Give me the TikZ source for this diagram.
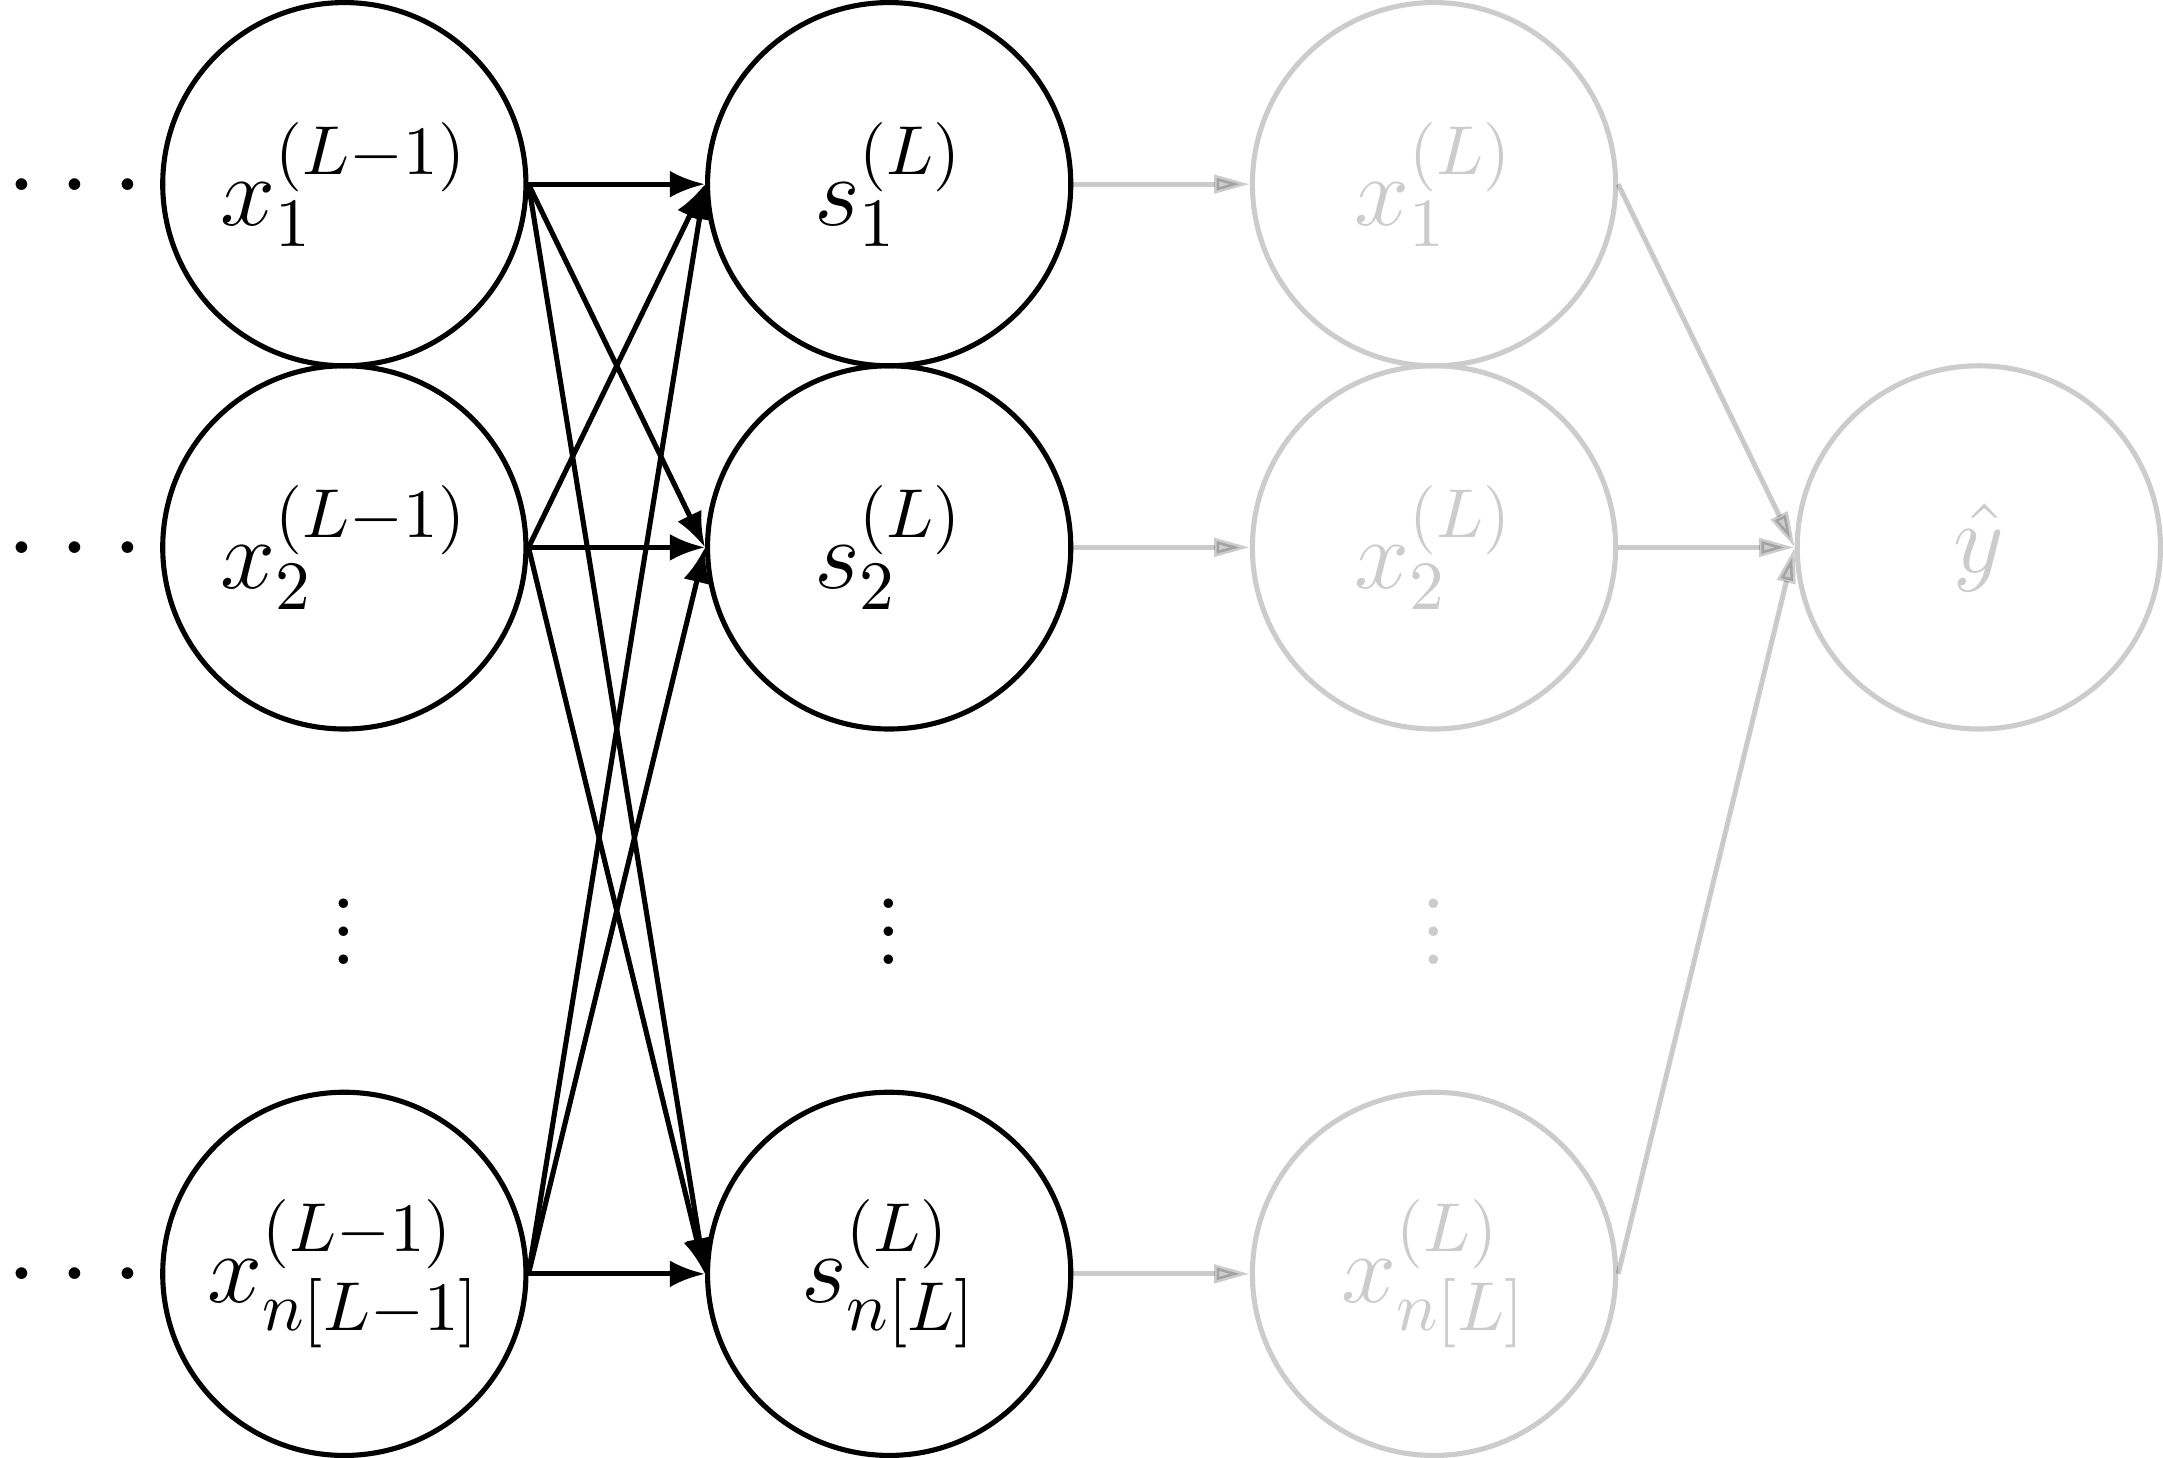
\RequirePackage{fix-cm}
\documentclass[tikz,border=0pt]{standalone}
\usetikzlibrary{arrows.meta}
\begin{document}
\begin{tikzpicture}[
  neuron/.style={circle, draw, thick, minimum size=2cm, inner sep=0pt,
                 font=\fontsize{15.5}{18}\selectfont},
  faded/.style={draw=black!20, text=black!20},
  hdots/.style={inner sep=0pt, font=\fontsize{19}{22}\selectfont},
  vdotsnode/.style={inner sep=0pt, font=\fontsize{14}{17}\selectfont, scale=1.1, transform shape},
  blk/.style={thick, -{Latex[length=5.5pt,width=4.2pt]}},
  gry/.style={thick, draw=black, fill=black, opacity=0.2, -{Triangle[length=5.6pt,width=2.8pt]}},
]
\useasboundingbox (-1.896,-7.014) rectangle (10.014,1.014);

% layer L-1
\node[neuron] (a1) at (0,0)  {$x_1^{(L-1)}$};
\node[neuron] (a2) at (0,-2) {$x_2^{(L-1)}$};
\node[neuron] (an) at (0,-6) {$x_{n[L-1]}^{(L-1)}$};
% pre-activations
\node[neuron] (s1) at (3,0)  {$s_1^{(L)}$};
\node[neuron] (s2) at (3,-2) {$s_2^{(L)}$};
\node[neuron] (sn) at (3,-6) {$s_{n[L]}^{(L)}$};
% layer L (faded)
\node[neuron, faded] (b1) at (6,0)  {$x_1^{(L)}$};
\node[neuron, faded] (b2) at (6,-2) {$x_2^{(L)}$};
\node[neuron, faded] (bn) at (6,-6) {$x_{n[L]}^{(L)}$};
% output
\node[neuron, faded] (y) at (9,-2) {$\hat{y}$};

% dots
\node[hdots] (l1) at (-1.48,0)  {$\ldots$};
\node[hdots] (l2) at (-1.48,-2) {$\ldots$};
\node[hdots] (ln) at (-1.48,-6) {$\ldots$};
\node[vdotsnode] (va) at (0,-4) {$\vdots$};
\node[vdotsnode] (vs) at (3,-4) {$\vdots$};
\node[vdotsnode, text=black!20] (vb) at (6,-4) {$\vdots$};

% black connections
\foreach \i in {a1,a2,an}
  \foreach \j in {s1,s2,sn}
    \draw[blk] (\i.east) -- (\j.west);

% gray connections
\draw[gry] (s1.east) -- (b1.west);
\draw[gry] (s2.east) -- (b2.west);
\draw[gry] (sn.east) -- (bn.west);
\draw[gry] (b1.east) -- (y.west);
\draw[gry] (b2.east) -- (y.west);
\draw[gry] (bn.east) -- (y.west);
\end{tikzpicture}
\end{document}
